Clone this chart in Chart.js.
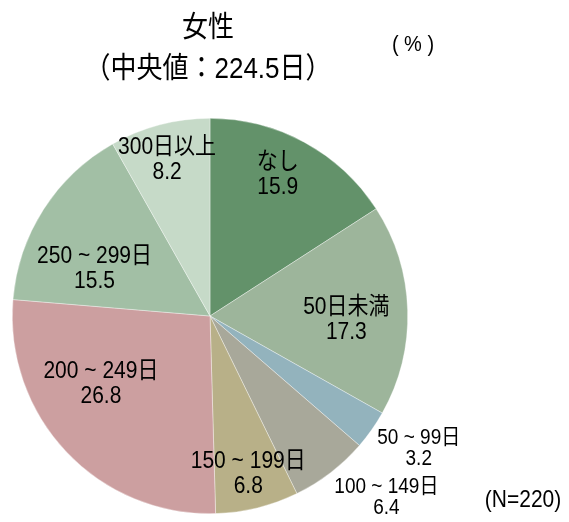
<!DOCTYPE html>
<html>
<head>
<meta charset="utf-8">
<script src="https://cdn.jsdelivr.net/npm/chart.js@4.4.1/dist/chart.umd.min.js"></script>
<style>
  html, body { margin: 0; padding: 0; background: #fff; }
  #wrap { width: 569px; height: 522px; position: relative; }
</style>
</head>
<body>
<div id="wrap"><canvas id="pie"></canvas></div>
<script>
// data
const categories = ['なし', '50日未満', '50 ~ 99日', '100 ~ 149日', '150 ~ 199日', '200 ~ 249日', '250 ~ 299日', '300日以上'];
const shares = [15.9, 17.3, 3.2, 6.4, 6.8, 26.8, 15.5, 8.2];
const sliceColors = ['#63926a', '#9db59b', '#93b3bd', '#a8a89a', '#b8b088', '#cc9fa0', '#a2bfa5', '#c6dac8'];

// label placement: radius factor and angle shift (deg) per slice
const labelRadius = [0.79, 0.69, 1.25, 1.28, 0.82, 0.65, 0.63, 0.82];
const labelShift = [-2.9, 3.3, -2.8, -6.6, 0.2, 11.5, -10.6, -0.6];

const FONT = '"Liberation Sans", Arial, "Noto Sans CJK JP", sans-serif';
const STRETCH = 1.12;

function stretchedText(ctx, text, x, y, size) {
    ctx.save();
    ctx.font = size + 'px ' + FONT;
    ctx.translate(x, y);
    ctx.scale(1, STRETCH);
    ctx.fillText(text, 0, 0);
    ctx.restore();
}

const labelPlugin = {
    id: 'sliceLabels',
    afterDatasetsDraw(chart) {
        const {ctx} = chart;
        const meta = chart.getDatasetMeta(0);
        ctx.save();
        ctx.fillStyle = '#000';
        ctx.textAlign = 'center';
        ctx.textBaseline = 'middle';
        meta.data.forEach((arc, i) => {
            const p = arc.getProps(['x', 'y', 'startAngle', 'endAngle', 'outerRadius'], true);
            const mid = (p.startAngle + p.endAngle) / 2 + labelShift[i] * Math.PI / 180;
            const r = p.outerRadius * labelRadius[i];
            const x = p.x + Math.cos(mid) * r;
            const y = p.y + Math.sin(mid) * r;
            const small = labelRadius[i] > 1;
            const size = small ? 19 : 21;
            const gap = small ? 10.5 : 12.5;
            stretchedText(ctx, categories[i], x, y - gap, size);
            stretchedText(ctx, shares[i].toFixed(1), x, y + gap, size);
        });
        // title and notes
        stretchedText(ctx, '女性', 208, 29, 26);
        stretchedText(ctx, '（中央値：224.5日）', 208, 70, 26);
        stretchedText(ctx, '( % )', 413, 45, 20);
        stretchedText(ctx, '(N=220)', 523, 501, 21);
        ctx.restore();
    }
};

new Chart(document.getElementById('pie').getContext('2d'), {
    type: 'pie',
    data: {
        labels: categories,
        datasets: [{
            data: shares,
            backgroundColor: sliceColors,
            borderColor: 'rgba(255,255,255,0.6)',
            borderWidth: 0.6
        }]
    },
    options: {
        responsive: true,
        maintainAspectRatio: false,
        animation: false,
        layout: { padding: { left: 12, right: 161, top: 118, bottom: 8 } },
        plugins: {
            legend: { display: false },
            tooltip: { enabled: false }
        }
    },
    plugins: [labelPlugin]
});
</script>
</body>
</html>
